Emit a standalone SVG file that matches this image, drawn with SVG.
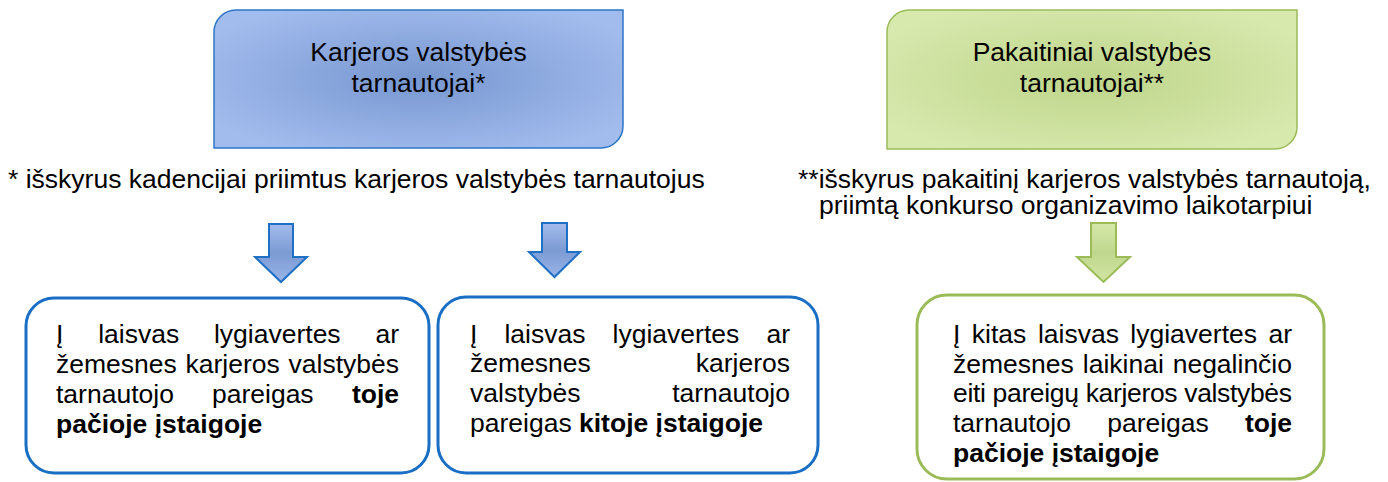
<svg xmlns="http://www.w3.org/2000/svg" width="1388" height="482" viewBox="0 0 1388 482">
<defs>
<radialGradient id="gBlue" cx="50%" cy="50%" r="60%">
<stop offset="0" stop-color="#7797d0"/>
<stop offset="1" stop-color="#a3bcee"/>
</radialGradient>
<radialGradient id="gGreen" cx="50%" cy="50%" r="60%">
<stop offset="0" stop-color="#bed58a"/>
<stop offset="1" stop-color="#d8e9ae"/>
</radialGradient>
<linearGradient id="aBlue" x1="0" y1="0" x2="0" y2="1">
<stop offset="0" stop-color="#a4bcec"/>
<stop offset="0.5" stop-color="#7b9bd3"/>
<stop offset="1" stop-color="#9ab4e8"/>
</linearGradient>
<linearGradient id="aGreen" x1="0" y1="0" x2="0" y2="1">
<stop offset="0" stop-color="#d6e8aa"/>
<stop offset="0.5" stop-color="#bfd78d"/>
<stop offset="1" stop-color="#d2e5a3"/>
</linearGradient>
</defs>
<style>
text{font-family:"Liberation Sans",Arial,sans-serif;font-size:26.5px;fill:#000;}
.b{font-weight:bold;}
.m{text-anchor:middle;}
.e{text-anchor:end;}
.topB{fill:url(#gBlue);stroke:#2e75c6;stroke-width:1.5;}
.topG{fill:url(#gGreen);stroke:#9bbb59;stroke-width:1.5;}
.boxB{fill:#fff;stroke:#1a6fc4;stroke-width:3;}
.boxG{fill:#fff;stroke:#9bbb59;stroke-width:3;}
.arB{fill:url(#aBlue);stroke:#1f6fc5;stroke-width:2;stroke-linejoin:miter;}
.arG{fill:url(#aGreen);stroke:#9bbb59;stroke-width:2;}
</style>
<rect width="1388" height="482" fill="#fff"/>

<g id="karjeros">
<path class="topB" d="M236,10 H623 V126 A22,22 0 0 1 601,148 H214 V32 A22,22 0 0 1 236,10 Z"/>
<text class="m" x="418.5" y="61">Karjeros valstybės</text>
<text class="m" x="418.5" y="92">tarnautojai*</text>
</g>

<g id="pakaitiniai">
<path class="topG" d="M909,10 H1297 V127 A22,22 0 0 1 1275,149 H887 V32 A22,22 0 0 1 909,10 Z"/>
<text class="m" x="1092" y="61">Pakaitiniai valstybės</text>
<text class="m" x="1092" y="92">tarnautojai**</text>
</g>

<g id="note1">
<text x="8" y="188">* išskyrus kadencijai priimtus karjeros valstybės tarnautojus</text>
</g>

<g id="note2">
<text><tspan x="798" y="187.5">**išskyrus pakaitinį karjeros valstybės tarnautoją,</tspan><tspan x="819" y="213.5">priimtą konkurso organizavimo laikotarpiui</tspan></text>
</g>

<g id="box1">
<rect class="boxB" x="26" y="298" width="403" height="175" rx="28" ry="28"/>
<text x="56" y="343">Į</text>
<text class="m" x="138.7" y="343">laisvas</text>
<text class="m" x="277.3" y="343">lygiavertes</text>
<text class="e" x="399" y="343">ar</text>
<text x="56" y="372.8">žemesnes</text>
<text class="m" x="232.6" y="372.8">karjeros</text>
<text class="e" x="399" y="372.8">valstybės</text>
<text x="56" y="402.7">tarnautojo</text>
<text class="m" x="262.8" y="402.7">pareigas</text>
<text class="e b" x="399" y="402.7">toje</text>
<text class="b" x="56" y="432.6">pačioje įstaigoje</text>
</g>

<g id="box2">
<rect class="boxB" x="438" y="297" width="380" height="176" rx="28" ry="28"/>
<text x="470" y="342.7">Į</text>
<text class="m" x="545" y="342.7">laisvas</text>
<text class="m" x="675.9" y="342.7">lygiavertes</text>
<text class="e" x="790" y="342.7">ar</text>
<text x="470" y="372">žemesnes</text>
<text class="e" x="790" y="372">karjeros</text>
<text x="470" y="401.8">valstybės</text>
<text class="e" x="790" y="401.8">tarnautojo</text>
<text x="470" y="431.7">pareigas <tspan class="b">kitoje įstaigoje</tspan></text>
</g>

<g id="box3">
<rect class="boxG" x="917" y="295" width="407" height="184" rx="30" ry="30"/>
<text x="953" y="342.7">Į</text>
<text class="m" x="999" y="342.7">kitas</text>
<text class="m" x="1078.4" y="342.7">laisvas</text>
<text class="m" x="1193.7" y="342.7">lygiavertes</text>
<text class="e" x="1292" y="342.7">ar</text>
<text x="953" y="372.5">žemesnes</text>
<text class="m" x="1123.3" y="372.5">laikinai</text>
<text class="e" x="1292" y="372.5">negalinčio</text>
<text x="953" y="402" textLength="339" lengthAdjust="spacing">eiti pareigų karjeros valstybės</text>
<text x="953" y="431.8">tarnautojo</text>
<text class="m" x="1158" y="431.8">pareigas</text>
<text class="e b" x="1292" y="431.8">toje</text>
<text class="b" x="953" y="461.6">pačioje įstaigoje</text>
</g>

<g id="connectors">
<polygon class="arB" points="269,224 293,224 293,257 307,257 281,282 255,257 269,257"/>
<polygon class="arB" points="542,223 567,223 567,252 580,252 554.5,277 529,252 542,252"/>
<polygon class="arG" points="1091,223 1116,223 1116,257 1130,257 1103.5,282 1077,257 1091,257"/>
</g>
</svg>
